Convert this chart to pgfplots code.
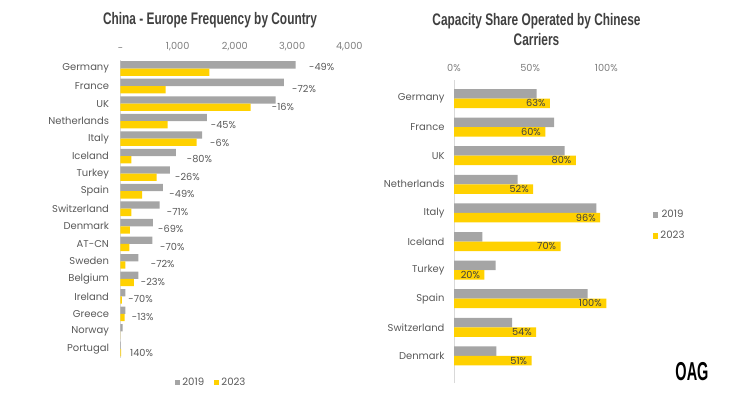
\documentclass[border=0pt]{standalone}
\usepackage{pgfplots}
\pgfplotsset{compat=1.18}
\usepackage{fontspec}
\setmainfont{Poppins}
\newfontfamily\titlefont[FakeStretch=0.71]{Liberation Sans}
\newfontfamily\logofont[FakeStretch=0.56]{Liberation Sans}

\definecolor{barGray}{HTML}{A5A5A5}
\definecolor{barYel}{HTML}{FFD100}
\definecolor{labC}{HTML}{595959}
\definecolor{tickC}{HTML}{7F7F7F}
\definecolor{axisC}{HTML}{D9D9D9}
\definecolor{titleC}{HTML}{404040}

\pgfplotsset{
  sqlegend/.style={legend image code/.code={\fill[##1,draw=none] (0bp,-2.6bp) rectangle (5.2bp,2.6bp);}},
}

\begin{document}
\begin{tikzpicture}
\path (0,0) rectangle (750bp,400bp);

% titles
\node[font=\titlefont\bfseries\fontsize{16.8}{20}\selectfont, text=titleC] at (210bp,380bp) {China - Europe Frequency by Country};
\node[font=\titlefont\bfseries\fontsize{16.8}{20}\selectfont, text=titleC, align=center] at (536.5bp,370.5bp) {Capacity Share Operated by Chinese\\[0.3bp]Carriers};
\node[font=\logofont\bfseries\fontsize{26}{26}\selectfont, text=black] at (692bp,28bp) {OAG};

% left chart: frequency
\begin{axis}[
  at={(120.5bp,340.25bp)}, anchor=north west,
  scale only axis, width=228.8bp, height=298bp,
  xbar, bar width=7.3bp,
  xmin=0, xmax=4000, ymin=-0.5, ymax=16.5,
  enlargelimits=false, clip=false,
  axis x line*=top, axis y line*=left,
  x axis line style={draw=none}, y axis line style={draw=axisC},
  major tick length=0pt, tick style={draw=none},
  xtick={0,1000,2000,3000,4000},
  xticklabels={-,{1,000},{2,000},{3,000},{4,000}},
  ytick={0,...,16},
  yticklabels={Portugal,Norway,Greece,Ireland,Belgium,Sweden,AT-CN,Denmark,Switzerland,Spain,Turkey,Iceland,Italy,Netherlands,UK,France,Germany},
  xticklabel style={font=\fontsize{9.8}{10}\selectfont, text=tickC, yshift=5bp},
  yticklabel style={font=\fontsize{10}{10}\selectfont, text=labC, xshift=-8bp},
  legend style={at={(0.238,-0.083)}, anchor=west, draw=none, fill=none, inner sep=0pt,
    font=\fontsize{10.2}{10}\selectfont, text=labC, legend columns=2,
    /tikz/every even column/.append style={column sep=8bp}},
]
\addplot[fill=barGray, draw=none, bar shift=3.65bp, sqlegend] coordinates {
(3063,16) (2858,15) (2713,14) (1512,13) (1425,12) (970,11) (865,10) (743,9)
(685,8) (568,7) (556,6) (311,5) (311,4) (84,3) (84,2) (38,1) (5,0)};
\addlegendentry{2019}
\addplot[fill=barYel, draw=none, bar shift=-3.65bp, sqlegend] coordinates {
(1553,16) (790,15) (2276,14) (825,13) (1332,12) (189,11) (633,10) (376,9)
(189,8) (166,7) (154,6) (84,5) (236,4) (25,3) (73,2) (0,1) (12,0)};
\addlegendentry{2023}

\begin{scope}[every node/.style={anchor=west, inner sep=0pt, font=\fontsize{9.8}{10}\selectfont, text=labC}]
\node at (axis cs:3295,16.07) {-49\%};
\node at (axis cs:2998,14.83) {-72\%};
\node at (axis cs:2643,13.80) {-16\%};
\node at (axis cs:1577,12.75) {-45\%};
\node at (axis cs:1565,11.77) {-6\%};
\node at (axis cs:1157,10.85) {-80\%};
\node at (axis cs:953,9.83) {-26\%};
\node at (axis cs:853,8.83) {-49\%};
\node at (axis cs:808,7.83) {-71\%};
\node at (axis cs:656,6.83) {-69\%};
\node at (axis cs:690,5.83) {-70\%};
\node at (axis cs:528,4.83) {-72\%};
\node at (axis cs:353,3.83) {-23\%};
\node at (axis cs:136,2.83) {-70\%};
\node at (axis cs:196,1.83) {-13\%};
\node at (axis cs:166,-0.2) {140\%};
\end{scope}
\end{axis}

% right chart: capacity share
\begin{axis}[
  at={(454bp,320bp)}, anchor=north west,
  scale only axis, width=152.3bp, height=303bp,
  xbar, bar width=9.5bp,
  xmin=0, xmax=100, ymin=-0.95, ymax=9.65,
  enlargelimits=false, clip=false,
  axis x line*=top, axis y line*=left,
  x axis line style={draw=none}, y axis line style={draw=axisC},
  major tick length=0pt, tick style={draw=none},
  xtick={0,50,100},
  xticklabels={0\%,50\%,100\%},
  ytick={0,...,9},
  yticklabels={Denmark,Switzerland,Spain,Turkey,Iceland,Italy,Netherlands,UK,France,Germany},
  xticklabel style={font=\fontsize{9.8}{10}\selectfont, text=tickC, yshift=5bp},
  yticklabel style={font=\fontsize{10}{10}\selectfont, text=labC, xshift=-6bp},
  legend style={at={(1.307,0.52)}, anchor=west, draw=none, fill=none, inner sep=0pt,
    font=\fontsize{10.2}{10}\selectfont, text=labC, row sep=8bp},
]
\addplot[fill=barGray, draw=none, bar shift=4.75bp, sqlegend] coordinates {
(54.3,9) (65.7,8) (72.7,7) (41.8,6) (93.5,5) (18.6,4) (27.4,3) (87.8,2) (38.1,1) (27.8,0)};
\addlegendentry{2019}
\addplot[fill=barYel, draw=none, bar shift=-4.75bp, sqlegend,
  point meta=x,
  nodes near coords={\pgfmathprintnumber[fixed,precision=0,assume math mode=true]{\pgfplotspointmeta}\%},
  every node near coord/.append style={anchor=east, xshift=-1bp, font=\fontsize{9.8}{10}\selectfont, text=titleC}]
coordinates {
(63,9) (60,8) (80,7) (52,6) (96,5) (70,4) (20,3) (100,2) (54,1) (51,0)};
\addlegendentry{2023}
\end{axis}
\end{tikzpicture}
\end{document}
